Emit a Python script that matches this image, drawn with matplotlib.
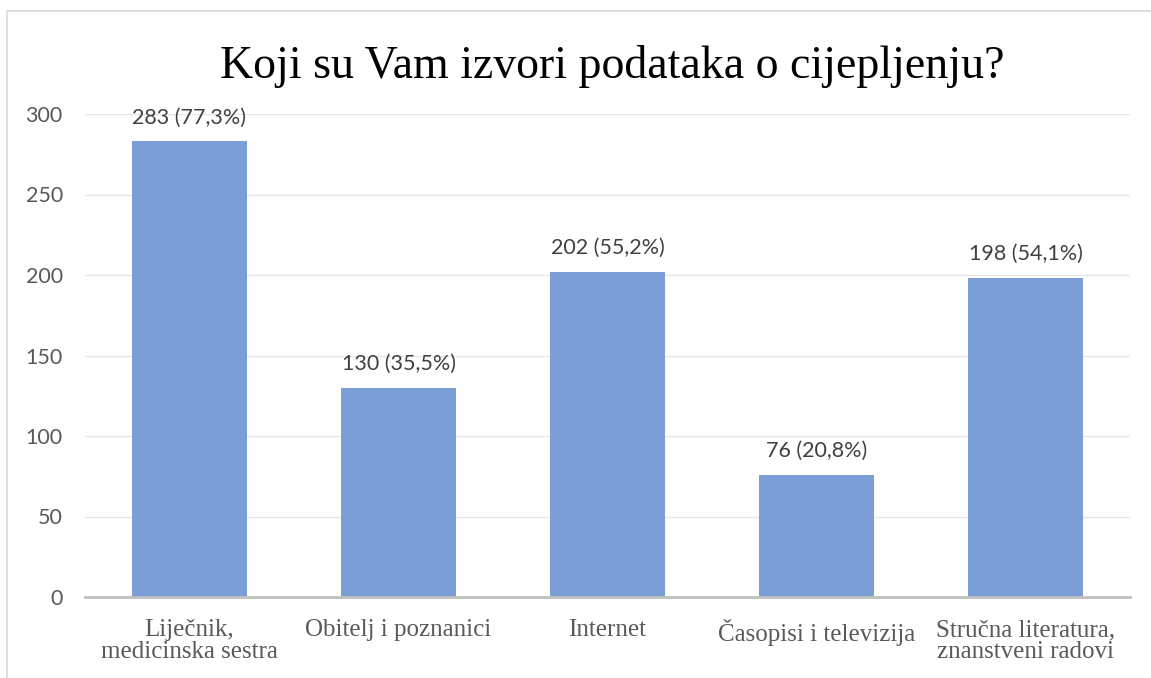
import matplotlib.pyplot as plt
from matplotlib.patches import Rectangle

# Chart data
categories = ["Liječnik,\nmedicinska sestra", "Obitelj i poznanici", "Internet",
              "Časopisi i televizija", "Stručna literatura,\nznanstveni radovi"]
counts = [283, 130, 202, 76, 198]
percents = ["77,3%", "35,5%", "55,2%", "20,8%", "54,1%"]
yticks = [0, 50, 100, 150, 200, 250, 300]
title = "Koji su Vam izvori podataka o cijepljenju?"

bar_color = "#7C9ED7"
grey_text = "#595959"


def main():
    fig = plt.figure(figsize=(11.51, 6.78), dpi=100)
    ax = fig.add_axes([85 / 1151, 1 - 597 / 678, 1045 / 1151, (597 - 114) / 678])

    # chart frame
    fig.patches.append(Rectangle((7 / 1151, -0.1), 1.1, 1 - 11 / 678 + 0.1,
                                 transform=fig.transFigure, fill=False,
                                 edgecolor="#D9D9D9", linewidth=1.2))

    x = list(range(len(categories)))
    bars = ax.bar(x, counts, width=0.555, color=bar_color, zorder=3)

    for bar, n, p in zip(bars, counts, percents):
        ax.annotate(f"{n} ({p})", (bar.get_x() + bar.get_width() / 2, n),
                    xytext=(0, 10), textcoords="offset points",
                    ha="center", va="bottom", fontsize=15.5,
                    family="Lato", color="#404040")

    ax.set_xlim(-0.5, len(categories) - 0.5)
    ax.set_ylim(0, 300)
    ax.set_yticks(yticks)
    ax.set_xticks(x)
    ax.set_xticklabels(categories)
    for lab in ax.get_xticklabels():
        lab.set_family("Liberation Serif")
        lab.set_fontsize(18)
        lab.set_color(grey_text)
        lab.set_linespacing(1.0)
    for lab in ax.get_yticklabels():
        lab.set_family("Lato")
        lab.set_fontsize(15.5)
        lab.set_color(grey_text)
    ax.tick_params(axis="y", length=0, pad=16)
    ax.tick_params(axis="x", length=0, pad=16)

    ax.grid(axis="y", color="#E6E6E6", linewidth=1, zorder=0)
    for side in ["top", "right", "left"]:
        ax.spines[side].set_visible(False)
    ax.spines["bottom"].set_color("#BFBFBF")
    ax.spines["bottom"].set_linewidth(2)
    ax.spines["bottom"].set_zorder(4)

    fig.text(612 / 1151, 1 - 66 / 678, title, ha="center", va="center",
             family="Liberation Serif", fontsize=33, color="black")

    fig.savefig("out.png", dpi=100)


if __name__ == "__main__":
    main()
